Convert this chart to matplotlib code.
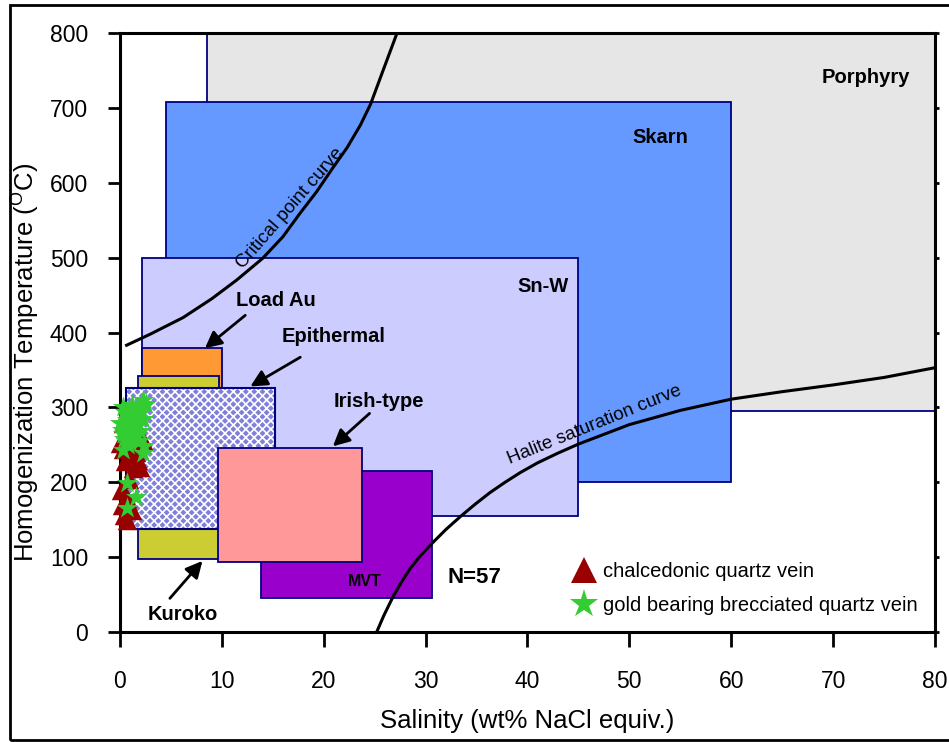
import matplotlib

matplotlib.use("Agg")
import matplotlib.pyplot as plt
from matplotlib.lines import Line2D
from matplotlib.patches import Rectangle

plt.rcParams["font.family"] = ["Liberation Sans", "DejaVu Sans"]
plt.rcParams["mathtext.fontset"] = "custom"
plt.rcParams["mathtext.rm"] = "Liberation Sans"
plt.rcParams["hatch.linewidth"] = 1.2

# deposit fields: (name, salinity min, salinity max, T min, T max)
field_names = ["Porphyry", "Skarn", "Sn-W", "Load Au", "Kuroko", "MVT", "Irish-type"]
sal_min = [8.5, 4.5, 2.2, 2.2, 1.8, 13.8, 9.6]
sal_max = [80, 60, 45, 10, 9.7, 30.6, 23.8]
temp_min = [295, 200, 155, 300, 98, 45, 93]
temp_max = [800, 708, 500, 380, 342, 215, 246]
field_colors = ["#e6e6e6", "#6699ff", "#ccccff", "#ff9933", "#cccc33", "#9900cc", "#ff9999"]

# epithermal field (hatched)
epi_sal = [0.6, 15.2]
epi_temp = [137, 326]

# curves
crit_sal = [0.65, 3, 6.2, 9, 11.45, 14, 16, 17.66, 19.3, 20.9, 22.3, 23.6, 24.6, 25.8, 27.2]
crit_temp = [383, 398, 420, 445, 470, 499, 528, 559, 588, 620, 647, 677, 705, 749, 800]
hal_sal = [25.2, 25.9, 26.8, 27.6, 28.5, 29.5, 30.6, 32, 33.4, 34.8, 36.3, 37.8, 39.3,
           41, 43, 45, 50, 55, 60, 65, 70, 75, 80]
hal_temp = [0, 22, 47, 66, 85, 102, 118, 137, 154, 170, 186, 200, 213,
            226, 239, 251, 277, 296, 311, 321, 330, 340, 353]

# fluid inclusion data
tri_x = [0.4, 1.15, 0.65, 1.3, 1.96, 0.8, 0.0, 2.3, 1.3, 0.3, 1.3, 0.2, 0.9, 1.6, 0.5,
         1.0, 0.1, 1.8, 0.7, 0.3, 1.2, 2.0]
tri_y = [156, 163, 179, 219, 220, 234, 252, 256, 250, 279, 294, 170, 205, 240, 228,
         262, 190, 230, 150, 245, 268, 262]
star_x = [2.3, 1.15, 0.5, 1.96, 2.3, 0.65, 0.0, 1.3, 0.33, 1.6, 1.0, 2.3, 0.65, 1.6, 0.65,
          0.33, 1.8, 2.6, 1.5, 0.9, 0.2, 1.2, 2.0, 0.8, 1.4, 0.4, 1.7, 2.1, 0.6, 1.1,
          0.3, 1.9, 0.9, 1.3, 2.4]
star_y = [310, 303, 294, 292, 285, 283, 279, 274, 265, 263, 254, 239, 199, 181, 165,
          243, 277, 305, 298, 288, 270, 260, 268, 250, 282, 258, 290, 296, 272, 286,
          300, 255, 276, 262, 248]

x_ticks = [0, 10, 20, 30, 40, 50, 60, 70, 80]
y_ticks = [0, 100, 200, 300, 400, 500, 600, 700, 800]

fig = plt.figure(figsize=(9.49, 7.42), dpi=100)
ax = fig.add_axes([0.1264, 0.1482, 0.8588, 0.8073])

for i, name in enumerate(field_names):
    z = 2 if name != "Irish-type" else 2.5
    ax.add_patch(Rectangle((sal_min[i], temp_min[i]), sal_max[i] - sal_min[i],
                           temp_max[i] - temp_min[i], facecolor=field_colors[i],
                           edgecolor="#000080", lw=1.3, zorder=z))

ax.add_patch(Rectangle((epi_sal[0], epi_temp[0]), epi_sal[1] - epi_sal[0], epi_temp[1] - epi_temp[0],
                       facecolor="#8080da", edgecolor="white", hatch="xxxx", lw=0, zorder=2.3))
ax.add_patch(Rectangle((epi_sal[0], epi_temp[0]), epi_sal[1] - epi_sal[0], epi_temp[1] - epi_temp[0],
                       fill=False, edgecolor="#000080", lw=1.5, zorder=2.31))

ax.plot(crit_sal, crit_temp, color="black", lw=2.2, zorder=3, solid_joinstyle="round")
ax.plot(hal_sal, hal_temp, color="black", lw=2.2, zorder=3, solid_joinstyle="round")

ax.scatter(tri_x, tri_y, marker="^", s=14 ** 2, color="#990000", linewidths=0, zorder=4, clip_on=False)
ax.scatter(star_x, star_y, marker="*", s=16 ** 2, color="#33cc33", linewidths=0, zorder=5, clip_on=False)

# labels
bold = dict(fontsize=14.5, fontweight="bold", ha="center", va="center", zorder=6)
ax.text(73.2, 741, "Porphyry", **bold)
ax.text(53, 660, "Skarn", **bold)
ax.text(41.5, 461, "Sn-W", **bold)
ax.text(24, 68, "MVT", fontsize=11.5, fontweight="bold", ha="center", va="center", zorder=6)
ax.text(34.8, 73, "N=57", fontsize=16, fontweight="bold", ha="center", va="center", zorder=6)

arrow = dict(arrowstyle="-|>", color="black", lw=2, mutation_scale=25, shrinkA=0, shrinkB=0)
ax.annotate("", xy=(8.34, 379), xytext=(12.3, 423), arrowprops=arrow, zorder=6)
ax.annotate("", xy=(12.8, 328), xytext=(17.7, 367), arrowprops=arrow, zorder=6)
ax.annotate("", xy=(20.9, 248), xytext=(24.5, 292), arrowprops=arrow, zorder=6)
ax.annotate("", xy=(8.1, 95), xytext=(4.9, 45), arrowprops=arrow, zorder=6)
ax.text(15.3, 443, "Load Au", **bold)
ax.text(21, 395, "Epithermal", **bold)
ax.text(25.4, 308, "Irish-type", **bold)
ax.text(6.2, 24, "Kuroko", **bold)

ax.text(16.7, 566, "Critical point curve", fontsize=13.5, rotation=49, ha="center", va="center", zorder=6)
ax.text(46.6, 276, "Halite saturation curve", fontsize=13.5, rotation=22, ha="center", va="center", zorder=6)

handles = [
    Line2D([], [], marker="^", color="#990000", ls="none", markersize=19, markeredgewidth=0),
    Line2D([], [], marker="*", color="#33cc33", ls="none", markersize=21, markeredgewidth=0),
]
ax.legend(handles, ["chalcedonic quartz vein", "gold bearing brecciated quartz vein"],
          loc="center left", bbox_to_anchor=(0.546, 0.072), frameon=False, fontsize=14.5,
          borderaxespad=0, handlelength=1.1, handletextpad=0.4, labelspacing=0.75)

ax.set_xlim(0, 80)
ax.set_ylim(0, 800)
ax.set_xticks(x_ticks)
ax.set_yticks(y_ticks)
ax.tick_params(axis="x", direction="out", length=11, width=2, labelsize=16.5, pad=16)
ax.tick_params(axis="y", direction="out", length=9, width=2, labelsize=16.5, pad=14)
ax.tick_params(axis="y", which="both", right=True)
for sp in ax.spines.values():
    sp.set_linewidth(2.2)
for t in ax.yaxis.get_major_ticks():
    t.tick2line.set_markersize(3)
ax.set_xlabel("Salinity (wt% NaCl equiv.)", fontsize=18.5, labelpad=12)
ax.set_ylabel(r"Homogenization Temperature ($^{\mathrm{O}}$C)", fontsize=18.5)
ax.yaxis.set_label_coords(-0.097, 0.45)

fig.patches.append(Rectangle((0.0105, 0.003), 1.0, 0.99, transform=fig.transFigure,
                             fill=False, edgecolor="black", lw=2))

fig.savefig("out.png", dpi=100)
